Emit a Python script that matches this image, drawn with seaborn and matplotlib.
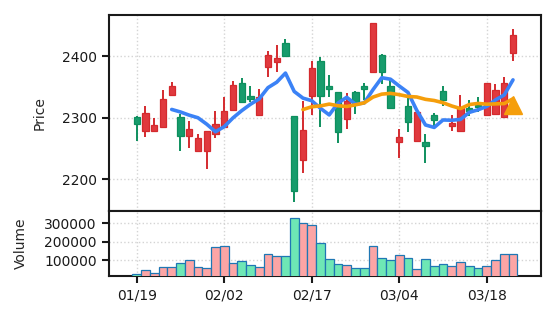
import numpy as np
import pandas as pd
import matplotlib
matplotlib.use("Agg")
import matplotlib.pyplot as plt
from matplotlib.ticker import FuncFormatter
import seaborn as sns

# Trading calendar (weekdays minus two market holidays)
dates = pd.bdate_range("2026-01-19", "2026-03-23").drop(
    pd.to_datetime(["2026-02-16", "2026-02-18"]))

opens = [2300.6, 2278.9, 2278.9, 2284.3, 2336.4, 2300.6, 2269.7, 2245.3, 2245.3, 2273.5,
         2284.3, 2312.5, 2357.0, 2335.3, 2304.4, 2381.9, 2390.6, 2420.9, 2302.8, 2230.7,
         2335.3, 2391.7, 2351.6, 2341.3, 2297.4, 2341.3, 2351.6, 2373.8, 2402.5, 2352.1,
         2259.9, 2318.5, 2262.7, 2259.9, 2304.4, 2342.9, 2287.1, 2278.9, 2315.2, 2320.7,
         2304.4, 2306.6, 2300.6, 2404.7]
highs = [2302.8, 2319.0, 2299.5, 2345.0, 2358.1, 2306.0, 2295.2, 2273.5, 2277.8, 2310.4,
         2334.2, 2360.2, 2364.6, 2351.6, 2346.7, 2408.5, 2417.7, 2428.0, 2303.0, 2327.7,
         2392.2, 2398.2, 2369.4, 2341.5, 2339.6, 2342.9, 2356.4, 2453.5, 2402.8, 2361.3,
         2281.7, 2331.5, 2308.9, 2273.5, 2307.7, 2351.6, 2304.4, 2336.9, 2328.2, 2333.7,
         2356.5, 2354.8, 2366.2, 2444.2]
lows = [2262.1, 2269.2, 2276.8, 2283.5, 2336.0, 2246.4, 2251.3, 2245.0, 2217.1, 2267.5,
        2284.0, 2312.0, 2323.5, 2325.0, 2304.0, 2365.6, 2374.9, 2399.5, 2161.9, 2210.6,
        2304.4, 2285.4, 2334.2, 2258.3, 2282.2, 2306.6, 2328.8, 2373.5, 2354.8, 2315.5,
        2235.0, 2277.3, 2261.0, 2226.9, 2282.7, 2319.6, 2278.9, 2278.6, 2302.8, 2309.8,
        2304.0, 2306.0, 2300.0, 2392.7]
closes = [2290.3, 2307.1, 2287.6, 2329.9, 2351.6, 2269.7, 2281.1, 2266.5, 2277.8, 2290.3,
          2310.4, 2352.6, 2325.5, 2329.9, 2334.2, 2401.4, 2397.1, 2399.8, 2180.3, 2280.0,
          2380.3, 2335.3, 2346.1, 2276.2, 2327.7, 2323.4, 2346.1, 2453.5, 2373.8, 2315.8,
          2268.1, 2293.6, 2308.7, 2254.0, 2295.7, 2328.8, 2291.4, 2315.2, 2311.4, 2316.9,
          2355.9, 2344.5, 2355.9, 2433.9]
volumes = [27300, 47300, 31000, 65500, 65500, 85500, 103600, 65500, 60000, 172900,
           180000, 85500, 96400, 76400, 65500, 134500, 123600, 123600, 331000, 303600,
           289100, 194500, 107300, 80000, 72700, 58200, 58200, 178200, 112700, 101800,
           129100, 114500, 52700, 107300, 69100, 80000, 69100, 90900, 69100, 58200,
           69100, 101800, 134500, 134500]

# Signal marker
signal_idx = [43]
signal_price = [2320.0]

ma_windows = [5, 20]
ma_colors = ["#3b82f6", "#f59e0b"]

df = pd.DataFrame({"date": dates, "open": opens, "high": highs, "low": lows,
                   "close": closes, "volume": volumes})
df["x"] = np.arange(len(df))
for w in ma_windows:
    df[f"ma{w}"] = df["close"].rolling(w).mean()
up = df["close"] >= df["open"]

sns.set_theme(style="ticks")
plt.rcParams["font.family"] = ["DejaVu Sans"]

fig = plt.figure(figsize=(5.56, 3.22), dpi=100)
ax = fig.add_axes([0.1955, 0.3447, 0.7775, 0.6087])
axv = fig.add_axes([0.1955, 0.1419, 0.7775, 0.2028], sharex=ax)

# Candles: red rising, green falling
face = np.where(up, "#e0393e", "#179c6c")
edge = np.where(up, "#d42a2e", "#0e8f5e")
ax.vlines(df["x"], df["low"], df["high"], colors=edge, lw=1.4, zorder=2)
body_lo = np.minimum(df["open"], df["close"])
body_h = np.maximum(np.abs(df["close"] - df["open"]), 1.5)
ax.bar(df["x"], body_h, bottom=body_lo, width=0.72, color=face, edgecolor=edge,
       linewidth=0.9, zorder=3)

# Moving averages
for w, c in zip(ma_windows, ma_colors):
    sns.lineplot(data=df, x="x", y=f"ma{w}", ax=ax, color=c, lw=2.6, zorder=4)

ax.plot(signal_idx, signal_price, marker="^", ms=13, color="#f59e0b",
        ls="none", zorder=5)

# Volume
vface = np.where(up, "#fca5a5", "#6ee7b5")
axv.bar(df["x"], df["volume"], width=1.0, color=vface, edgecolor="#1f77b4",
        linewidth=0.9, zorder=3)

ax.set_xlim(-3.2, 46.2)
ax.set_ylim(2148, 2467)
axv.set_ylim(14000, 367000)

ax.set_yticks([2200, 2300, 2400])
axv.set_yticks([100000, 200000, 300000])
axv.yaxis.set_major_formatter(FuncFormatter(lambda v, p: f"{int(v)}"))
tick_pos = list(range(0, len(df), 10))
axv.set_xticks(tick_pos)
axv.set_xticklabels([dates[i].strftime("%m/%d") for i in tick_pos])

for a in (ax, axv):
    a.grid(True, ls=":", color="#d4d4d4", lw=1.0)
    a.set_axisbelow(True)
    for s in a.spines.values():
        s.set_visible(True)
        s.set_linewidth(1.5)
        s.set_color("#1a1a1a")
    a.tick_params(axis="both", direction="out", length=5, width=1.5,
                  labelsize=10, color="#1a1a1a", labelcolor="#1a1a1a")
    a.set_xlabel("")

ax.tick_params(axis="x", length=0, labelbottom=False)
ax.set_ylabel("Price", fontsize=10)
axv.set_ylabel("Volume", fontsize=10)
ax.yaxis.set_label_coords(-0.143, 0.5)
axv.yaxis.set_label_coords(-0.187, 0.5)

fig.savefig("out.png", dpi=100)
